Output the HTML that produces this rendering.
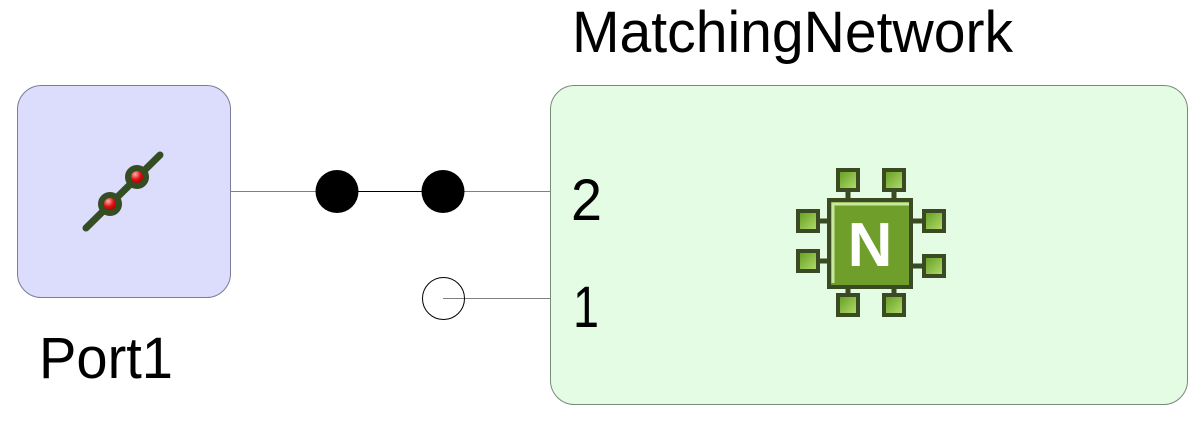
<!DOCTYPE html>
<html><head><meta charset="utf-8"><style>
html,body{margin:0;padding:0;background:#fff;width:1204px;height:426px;overflow:hidden}
</style></head><body>
<svg width="1204" height="426" viewBox="0 0 1204 426" xmlns="http://www.w3.org/2000/svg">
<defs>
<radialGradient id="red" cx="0.4" cy="0.35" r="0.6"><stop offset="0" stop-color="#ffb0b0"/><stop offset="0.5" stop-color="#e01010"/><stop offset="1" stop-color="#900000"/></radialGradient>
<linearGradient id="pad" x1="0" y1="0" x2="1" y2="1"><stop offset="0" stop-color="#5f9a1c"/><stop offset="1" stop-color="#b8e070"/></linearGradient>
</defs>
<rect x="17.5" y="85.5" width="213" height="212" rx="24" fill="#dcdcfc" stroke="#7a7a9a" stroke-width="1"/>
<line x1="86" y1="228" x2="160" y2="155" stroke="#344d22" stroke-width="7" stroke-linecap="round"/>
<circle cx="110" cy="204" r="9" fill="url(#red)" stroke="#344d22" stroke-width="6"/>
<circle cx="137" cy="177" r="9" fill="url(#red)" stroke="#344d22" stroke-width="6"/>
<rect x="550.5" y="85.5" width="637" height="319" rx="24" fill="#e4fce4" stroke="#7a8a7a" stroke-width="1"/>
<line x1="231" y1="191.5" x2="550" y2="191.5" stroke="#808080" stroke-width="1"/>
<line x1="337" y1="191.5" x2="443" y2="191.5" stroke="#000" stroke-width="1"/>
<circle cx="337" cy="191.5" r="21.5" fill="#000"/>
<circle cx="443" cy="191.5" r="21.5" fill="#000"/>
<line x1="443" y1="298.5" x2="550" y2="298.5" stroke="#808080" stroke-width="1"/>
<circle cx="443.5" cy="298.5" r="21" fill="none" stroke="#000" stroke-width="1"/>
<text x="572" y="52" font-family="Liberation Sans, sans-serif" font-size="58" textLength="441" lengthAdjust="spacingAndGlyphs" fill="#000">MatchingNetwork</text>
<text x="39" y="378" font-family="Liberation Sans, sans-serif" font-size="58" textLength="134" lengthAdjust="spacingAndGlyphs" fill="#000">Port1</text>
<text x="571" y="220" font-family="Liberation Sans, sans-serif" font-size="58" textLength="31" lengthAdjust="spacingAndGlyphs" fill="#000">2</text>
<text x="573" y="327" font-family="Liberation Sans, sans-serif" font-size="58" textLength="26" lengthAdjust="spacingAndGlyphs" fill="#000">1</text>
<g stroke="#3a4a22" stroke-width="5">
<line x1="848" y1="190" x2="848" y2="200"/><line x1="894" y1="190" x2="894" y2="200"/>
<line x1="848" y1="288" x2="848" y2="296"/><line x1="894" y1="288" x2="894" y2="296"/>
<line x1="818" y1="221" x2="828" y2="221"/><line x1="818" y1="261" x2="828" y2="261"/>
<line x1="912" y1="221" x2="924" y2="221"/><line x1="912" y1="266" x2="924" y2="266"/>
</g>
<g fill="url(#pad)" stroke="#3a4a22" stroke-width="4">
<rect x="838" y="170" width="20" height="20"/><rect x="884" y="170" width="20" height="20"/>
<rect x="838" y="295" width="20" height="20"/><rect x="884" y="295" width="20" height="20"/>
<rect x="798" y="211" width="20" height="20"/><rect x="798" y="251" width="20" height="20"/>
<rect x="924" y="211" width="20" height="20"/><rect x="924" y="256" width="20" height="20"/>
</g>
<rect x="829" y="200" width="82" height="87" fill="#6f9e2a" stroke="#3a4a22" stroke-width="4"/>
<path d="M833 283 V204 H909" fill="none" stroke="#c8e8a0" stroke-width="3"/>
<text x="870" y="266" text-anchor="middle" font-family="Liberation Sans, sans-serif" font-weight="bold" font-size="62" fill="#fff">N</text>
</svg>
</body></html>
